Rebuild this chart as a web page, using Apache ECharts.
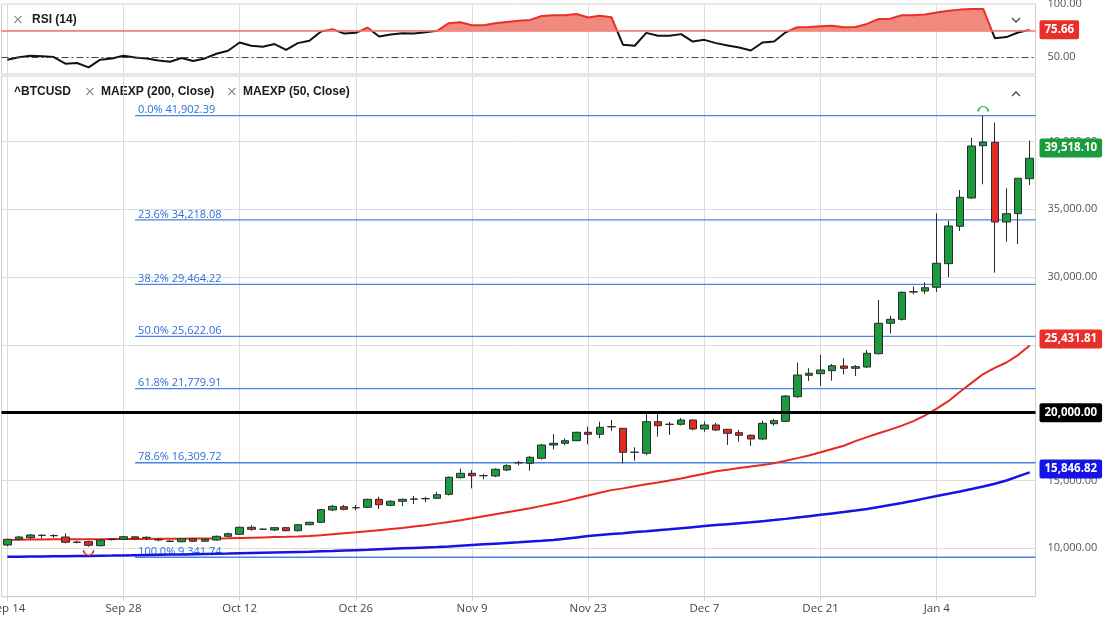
<!DOCTYPE html>
<html>
<head>
    <meta charset="utf-8">
    <title>^BTCUSD</title>
    <script src="https://cdn.jsdelivr.net/npm/echarts@6/dist/echarts.min.js"></script>
</head>
<body style="margin:0">
<div id="main" style="width:1109px;height:620px;"></div>
<script type="text/javascript">
    // weekday sessions, Sep 14 2020 .. Jan 14 2021
    var monthNames = ['Jan', 'Feb', 'Mar', 'Apr', 'May', 'Jun', 'Jul', 'Aug', 'Sep', 'Oct', 'Nov', 'Dec'];
    var dates = [];
    var day = new Date(Date.UTC(2020, 8, 14));
    while (dates.length < 89) {
        var wd = day.getUTCDay();
        if (wd !== 0 && wd !== 6) {
            dates.push(monthNames[day.getUTCMonth()] + ' ' + day.getUTCDate());
        }
        day.setUTCDate(day.getUTCDate() + 1);
    }
    var tickIdx = [0, 10, 20, 30, 40, 50, 60, 70, 80];

    var opens = [10243, 10664, 10782, 10960, 10940, 10833, 10460, 10487, 10192, 10640,
        10664, 10845, 10790, 10620, 10500, 10487, 10708, 10520, 10612, 10885,
        11033, 11549, 11410, 11350, 11520, 11298, 11740, 11918, 12825, 13068,
        12990, 13024, 13614, 13171, 13466, 13620, 13650, 13687, 13983, 15207,
        15531, 15360, 15332, 15775, 16300, 16268, 16637, 17618, 17744, 17936,
        18555, 18407, 18960, 18850, 17080, 17006, 19337, 19150, 19145, 19462,
        18798, 19093, 18776, 18526, 18334, 18061, 19189, 19366, 21181, 22759,
        22877, 23098, 23445, 23275, 23371, 24352, 26594, 26889, 28900, 28976,
        29249, 30990, 33748, 35835, 39692, 39943, 34064, 34676, 37258];
    var closes = [10664, 10833, 10981, 10950, 10930, 10442, 10440, 10221, 10612, 10680,
        10855, 10700, 10811, 10640, 10530, 10708, 10520, 10664, 10885, 11077,
        11549, 11401, 11401, 11520, 11298, 11740, 11918, 12847, 13097, 12876,
        12994, 13614, 13216, 13466, 13614, 13640, 13670, 13953, 15236, 15531,
        15354, 15350, 15826, 16092, 16320, 16711, 17618, 17744, 17936, 18555,
        18407, 18924, 18970, 17080, 17090, 19337, 19042, 19140, 19462, 18798,
        19093, 18724, 18481, 18334, 18061, 19219, 19411, 21232, 22781, 22906,
        23150, 23467, 23275, 23393, 24381, 26594, 26889, 28880, 28924, 29219,
        31019, 33770, 35886, 39670, 39965, 34064, 34676, 37288, 38763];
    var lows = [10150, 10610, 10700, 10708, 10782, 10369, 10369, 10118, 10150, 10580,
        10620, 10650, 10600, 10520, 10450, 10450, 10480, 10500, 10560, 10850,
        11000, 11300, 11350, 11280, 11260, 11250, 11700, 11880, 12750, 12800,
        12800, 12990, 12900, 13100, 13120, 13267, 13400, 13650, 13900, 15162,
        14425, 15089, 15250, 15700, 16121, 15723, 16550, 17300, 17600, 17900,
        17670, 18112, 18673, 16268, 16461, 16881, 18231, 18356, 19050, 18700,
        18600, 18650, 17618, 17862, 17545, 18000, 19050, 19300, 21100, 22338,
        21992, 22360, 22833, 22707, 23300, 24300, 25856, 26800, 28733, 28755,
        28900, 29986, 33401, 35783, 36845, 30326, 32612, 32442, 36794];
    var highs = [10700, 10890, 11050, 11032, 11032, 11106, 10560, 10560, 10660, 10720,
        10900, 10880, 10880, 10740, 10600, 10740, 10740, 10700, 10940, 11150,
        11600, 11700, 11480, 11560, 11560, 11780, 11960, 12900, 13200, 13200,
        13200, 13650, 13806, 13550, 13658, 13857, 13800, 14174, 15300, 15871,
        15774, 15480, 15900, 16200, 16460, 16800, 17700, 18430, 18100, 18600,
        18968, 19337, 19462, 18850, 17449, 19904, 19956, 19314, 19600, 19500,
        19350, 19250, 18800, 18724, 18400, 19400, 19550, 21300, 23688, 23275,
        24256, 23592, 24012, 23518, 24624, 28312, 27154, 28950, 29300, 29618,
        34706, 34160, 36424, 40282, 41882, 41388, 36550, 37300, 40060];

    var ema50 = [10612, 10625, 10640, 10650, 10660, 10665, 10670, 10672, 10675, 10680,
        10685, 10690, 10695, 10700, 10705, 10710, 10715, 10722, 10730, 10745,
        10765, 10785, 10805, 10825, 10845, 10870, 10900, 10960, 11040, 11110,
        11180, 11260, 11340, 11420, 11500, 11600, 11700, 11820, 11940, 12070,
        12210, 12360, 12510, 12660, 12800, 12960, 13130, 13300, 13480, 13690,
        13900, 14100, 14290, 14420, 14580, 14720, 14850, 15000, 15150, 15330,
        15500, 15680, 15800, 15920, 16040, 16150, 16280, 16450, 16650, 16850,
        17080, 17320, 17560, 17900, 18200, 18480, 18750, 19050, 19380, 19800,
        20300, 20850, 21550, 22200, 22850, 23300, 23700, 24250, 24950];
    var ema200 = [9370, 9380, 9390, 9400, 9410, 9420, 9430, 9440, 9450, 9460,
        9475, 9490, 9505, 9520, 9535, 9550, 9565, 9580, 9595, 9610,
        9630, 9650, 9670, 9690, 9710, 9730, 9750, 9775, 9800, 9830,
        9860, 9890, 9925, 9960, 9995, 10030, 10065, 10100, 10140, 10190,
        10240, 10290, 10340, 10390, 10440, 10495, 10550, 10610, 10700, 10800,
        10900, 10980, 11050, 11110, 11200, 11260, 11330, 11400, 11480, 11560,
        11640, 11710, 11780, 11850, 11920, 12000, 12080, 12170, 12270, 12370,
        12470, 12570, 12670, 12780, 12900, 13040, 13190, 13340, 13500, 13680,
        13860, 14020, 14190, 14370, 14560, 14760, 15000, 15300, 15600];
    var rsi = [47.5, 49.8, 51.3, 50.8, 50.0, 43.7, 44.4, 40.3, 47.5, 48.7,
        51.2, 49.6, 48.7, 46.8, 45.6, 49.1, 46.2, 48.7, 53.1, 55.9,
        63.7, 60.6, 59.7, 62.2, 56.8, 63.1, 65.3, 74.0, 76.3, 72.1,
        72.8, 77.8, 69.3, 71.2, 72.5, 72.1, 73.4, 74.7, 81.9, 82.8,
        80.0, 80.0, 81.9, 83.1, 84.1, 85.0, 88.7, 89.4, 89.4, 90.6,
        87.2, 89.0, 87.5, 61.5, 60.6, 72.8, 70.0, 70.0, 71.6, 64.6,
        66.2, 63.1, 60.9, 59.0, 56.2, 63.7, 64.6, 73.4, 78.1, 78.4,
        79.1, 79.6, 78.1, 78.4, 81.2, 85.9, 86.2, 89.4, 89.4, 90.0,
        91.9, 93.7, 94.7, 95.3, 95.3, 67.8, 68.8, 73.1, 75.66];

    var fibLevels = ['0.0%', '23.6%', '38.2%', '50.0%', '61.8%', '78.6%', '100.0%'];
    var fibValues = [41902.39, 34218.08, 29464.22, 25622.06, 21779.91, 16309.72, 9341.74];
    var fibStart = 11;
    var priceTicks = [10000, 15000, 20000, 25000, 30000, 35000, 40000];
    var rsiTicks = [50, 100];
    var lastPrice = 39518.10;
    var lastEma50 = 25431.81;
    var lastEma200 = 15846.82;
    var lastRsi = 75.66;
    var roundLevel = 20000;
    var rsiUpper = 75;

    function fmt(v) {
        var p = v.toFixed(2).split('.');
        return p[0].replace(/\B(?=(\d{3})+(?!\d))/g, ',') + '.' + p[1];
    }

    function badge(value, bg, width, text) {
        return {
            yAxis: value,
            lineStyle: {width: width || 0, color: bg, type: 'solid'},
            label: {
                show: true, position: 'end', distance: 4, formatter: text || fmt(value),
                color: '#fff', backgroundColor: bg, fontWeight: 'bold', fontSize: 11.5,
                fontFamily: 'Open Sans', padding: [4, 5, 3, 5], borderRadius: 2
            }
        };
    }

    function gridLines(xi, yi, hValues) {
        var lines = tickIdx.map(function (i) { return {xAxis: i}; });
        hValues.forEach(function (v) { lines.push({yAxis: v}); });
        return {
            type: 'line', xAxisIndex: xi, yAxisIndex: yi, data: [], silent: true, symbol: 'none',
            markLine: {
                silent: true, z: 1, symbol: 'none', animation: false, label: {show: false},
                lineStyle: {color: '#dcdcdc', width: 1, type: 'solid'}, data: lines
            }
        };
    }

    var series = [];
    series.push(gridLines(0, 0, []));
    series.push(gridLines(1, 1, priceTicks));

    var rsiAreaIdx = series.length;
    series.push({
        type: 'line', xAxisIndex: 0, yAxisIndex: 0, data: rsi, symbol: 'none', silent: true, z: 2,
        lineStyle: {width: 0}, areaStyle: {origin: rsiUpper, opacity: 1}
    });
    var rsiLineIdx = series.length;
    series.push({
        name: 'RSI (14)', type: 'line', xAxisIndex: 0, yAxisIndex: 0, data: rsi, symbol: 'none', z: 3,
        lineStyle: {width: 2},
        markLine: {
            silent: true, symbol: 'none', animation: false, label: {show: false},
            data: [
                {yAxis: rsiUpper, lineStyle: {color: '#f0766c', width: 1.5, type: 'solid'}},
                {yAxis: 50, lineStyle: {color: '#444', width: 1, type: [7, 3, 2, 3]}},
                badge(lastRsi, '#e8302a', 0, lastRsi.toFixed(2))
            ]
        }
    });

    fibValues.forEach(function (v, k) {
        series.push({
            type: 'line', xAxisIndex: 2, yAxisIndex: 1, silent: true, z: 2,
            symbol: 'circle', symbolSize: 0, showSymbol: true,
            lineStyle: {color: '#4685e6', width: 1.3},
            data: [
                {
                    value: [fibStart, v],
                    label: {
                        show: true, position: 'top', align: 'left', distance: 0, offset: [3, 0],
                        formatter: fibLevels[k] + ' ' + fmt(v),
                        color: '#2c6fdc', fontSize: 11, fontFamily: 'Open Sans'
                    }
                },
                {value: [dates.length - 0.5, v]}
            ]
        });
    });

    series.push({
        name: 'MAEXP (200, Close)', type: 'line', xAxisIndex: 1, yAxisIndex: 1, data: ema200,
        symbol: 'none', z: 3, lineStyle: {color: '#1414e6', width: 2.5},
        markLine: {silent: true, symbol: 'none', animation: false, data: [badge(lastEma200, '#1414e6')]}
    });
    series.push({
        name: 'MAEXP (50, Close)', type: 'line', xAxisIndex: 1, yAxisIndex: 1, data: ema50,
        symbol: 'none', z: 3, lineStyle: {color: '#e8281e', width: 2},
        markLine: {silent: true, symbol: 'none', animation: false, data: [badge(lastEma50, '#e8302a')]}
    });

    series.push({
        name: '^BTCUSD', type: 'candlestick', xAxisIndex: 1, yAxisIndex: 1, barWidth: 8, z: 4,
        data: opens.map(function (o, i) { return [o, closes[i], lows[i], highs[i]]; }),
        itemStyle: {
            color: '#1a9c3e', color0: '#e22c22', borderColor: '#2b2b2b', borderColor0: '#2b2b2b',
            borderColorDoji: '#2b2b2b', borderWidth: 1
        },
        markLine: {
            silent: true, symbol: 'none', animation: false, z: 6,
            data: [badge(roundLevel, '#000', 3), badge(lastPrice, '#1a9c3e')]
        },
        markPoint: {
            silent: true, animation: false, label: {show: false},
            data: [
                {
                    coord: [84, highs[84]], symbol: 'path://M0,6 A6,6 0 0 1 12,6', symbolSize: [10, 5],
                    symbolOffset: [0, -7], itemStyle: {color: 'rgba(0,0,0,0)', borderColor: '#35b85a', borderWidth: 1.3}
                },
                {
                    coord: [7, lows[7]], symbol: 'path://M0,0 A6,6 0 0 0 12,0', symbolSize: [10, 5],
                    symbolOffset: [0, 6], itemStyle: {color: 'rgba(0,0,0,0)', borderColor: '#e8302a', borderWidth: 1.3}
                }
            ]
        }
    });

    var axisText = {color: '#555', fontSize: 11, fontFamily: 'Open Sans'};
    var showTick = function (i) { return i % 10 === 0; };

    var option = {
        animation: false,
        backgroundColor: '#fff',
        grid: [
            {left: 1.5, right: 73.5, top: 4, height: 70, show: true, borderColor: '#d0d0d0', borderWidth: 1, outerBoundsMode: 'none'},
            {left: 1.5, right: 73.5, top: 76, height: 520.7, show: true, borderColor: '#d0d0d0', borderWidth: 1, outerBoundsMode: 'none'}
        ],
        xAxis: [
            {
                gridIndex: 0, type: 'category', data: dates, boundaryGap: true,
                axisLabel: {show: false}, axisTick: {show: false}, axisLine: {show: false}, splitLine: {show: false}
            },
            {
                gridIndex: 1, type: 'category', data: dates, boundaryGap: true,
                axisLine: {show: true, lineStyle: {color: '#cfcfcf'}},
                axisTick: {show: true, alignWithLabel: true, interval: showTick, length: 4, lineStyle: {color: '#cfcfcf'}},
                axisLabel: {interval: showTick, margin: 6, fontSize: 11.5, color: '#444', fontFamily: 'Open Sans'},
                splitLine: {show: false}
            },
            {gridIndex: 1, type: 'value', min: -0.5, max: dates.length - 0.5, show: false}
        ],
        yAxis: [
            {
                gridIndex: 0, type: 'value', position: 'right', min: 34, max: 100,
                splitLine: {show: false}, axisLine: {show: false}, axisTick: {show: false},
                axisLabel: Object.assign({customValues: rsiTicks, margin: 12, formatter: function (v) { return v.toFixed(2); }}, axisText)
            },
            {
                gridIndex: 1, type: 'value', position: 'right', min: 6430.7, max: 44830.4,
                splitLine: {show: false}, axisLine: {show: false}, axisTick: {show: false},
                axisLabel: Object.assign({customValues: priceTicks, margin: 12, formatter: fmt}, axisText)
            }
        ],
        visualMap: [
            {
                type: 'piecewise', show: false, seriesIndex: rsiLineIdx, dimension: 1,
                pieces: [{gte: 0, lte: rsiUpper, color: '#111'}, {gt: rsiUpper, lte: 100, color: '#e8302a'}],
                outOfRange: {color: '#111'}
            },
            {
                type: 'piecewise', show: false, seriesIndex: rsiAreaIdx, dimension: 1,
                pieces: [{gte: 0, lte: rsiUpper, color: 'rgba(255,255,255,0)'}, {gt: rsiUpper, lte: 100, color: '#f08a7e'}],
                outOfRange: {color: 'rgba(255,255,255,0)'}
            }
        ],
        graphic: [
            {type: 'text', left: 12, top: 13, style: {text: '\u00d7', fill: '#888', font: '14px "DejaVu Sans"'}},
            {type: 'text', left: 32, top: 14, style: {text: 'RSI (14)', fill: '#1a1a1a', font: 'bold 12px "Liberation Sans"'}},
            {type: 'text', left: 14, top: 86, style: {text: '^BTCUSD', fill: '#1a1a1a', font: 'bold 12px "Liberation Sans"'}},
            {type: 'text', left: 84, top: 85, style: {text: '\u00d7', fill: '#888', font: '14px "DejaVu Sans"'}},
            {type: 'text', left: 101, top: 86, style: {text: 'MAEXP (200, Close)', fill: '#1a1a1a', font: 'bold 12px "Liberation Sans"'}},
            {type: 'text', left: 226, top: 85, style: {text: '\u00d7', fill: '#888', font: '14px "DejaVu Sans"'}},
            {type: 'text', left: 243, top: 86, style: {text: 'MAEXP (50, Close)', fill: '#1a1a1a', font: 'bold 12px "Liberation Sans"'}},
            {type: 'polyline', shape: {points: [[1012, 18], [1016, 22], [1020, 18]]}, style: {stroke: '#444', lineWidth: 1.3, fill: null}},
            {type: 'polyline', shape: {points: [[1012, 96], [1016, 92], [1020, 96]]}, style: {stroke: '#444', lineWidth: 1.3, fill: null}}
        ],
        series: series
    };

    var myChart = echarts.init(document.getElementById('main'));
    myChart.setOption(option);
</script>
</body>
</html>
